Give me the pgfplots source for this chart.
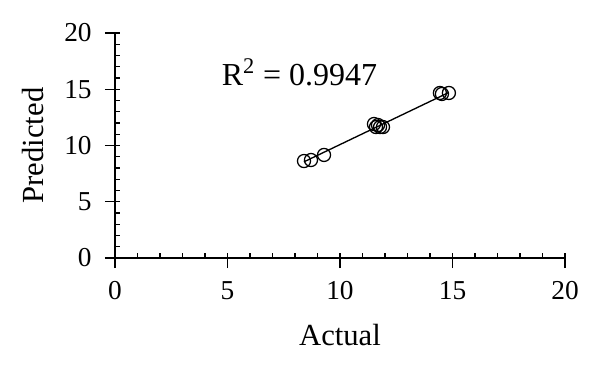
\documentclass[border=0pt]{standalone}
\usepackage{fontspec}
\setmainfont{Liberation Serif}
\usepackage{pgfplots}
\pgfplotsset{compat=1.18}
\begin{document}
\begin{tikzpicture}
\begin{axis}[
  width=337.5pt, height=168.75pt, scale only axis,
  xmin=0, xmax=20, ymin=0, ymax=20,
  axis x line=bottom, axis y line=left,
  axis line style={-, line width=1pt},
  xtick={0,5,...,20}, ytick={0,5,...,20},
  minor tick num=4,
  tick align=inside,
  major tick length=11pt, minor tick length=4pt,
  major x tick style={yshift=-7.5pt, line width=1pt, black},
  major y tick style={xshift=-7.5pt, line width=1pt, black},
  minor tick style={line width=0.9pt, black},
  /pgf/number format/assume math mode=true,
  tick label style={font=\fontsize{20.5}{24}\selectfont},
  label style={font=\fontsize{23}{27}\selectfont},
  xlabel={Actual}, ylabel={Predicted},
  xlabel style={at={(axis description cs:0.5,-0.342)}, anchor=center},
  ylabel style={at={(axis description cs:-0.182,0.5)}, anchor=center},
  xticklabel style={yshift=-14pt},
  yticklabel style={xshift=-14pt},
  clip=false,
]
\addplot[only marks, mark=o, mark size=4.9pt, mark options={line width=0.95pt, black}] coordinates {
 (8.40,8.62) (8.71,8.71) (9.29,9.16)
 (11.51,11.91) (11.60,11.64) (11.78,11.64) (11.91,11.64) (11.69,11.82)
 (14.44,14.67) (14.53,14.58) (14.84,14.67)
};
\addplot[black, line width=1pt] coordinates {(8.40,8.55) (14.84,14.72)};
\node[font=\fontsize{24}{28}\selectfont] at (axis cs:8.2,16.5) {R\textsuperscript{2} = 0.9947};
\coordinate (ll) at (rel axis cs:0,0);
\coordinate (ur) at (rel axis cs:1,1);
\end{axis}
\pgfresetboundingbox
\path[use as bounding box] ([xshift=-86.25pt,yshift=-83.25pt]ll) rectangle ([xshift=26.25pt,yshift=24.75pt]ur);
\end{tikzpicture}
\end{document}
